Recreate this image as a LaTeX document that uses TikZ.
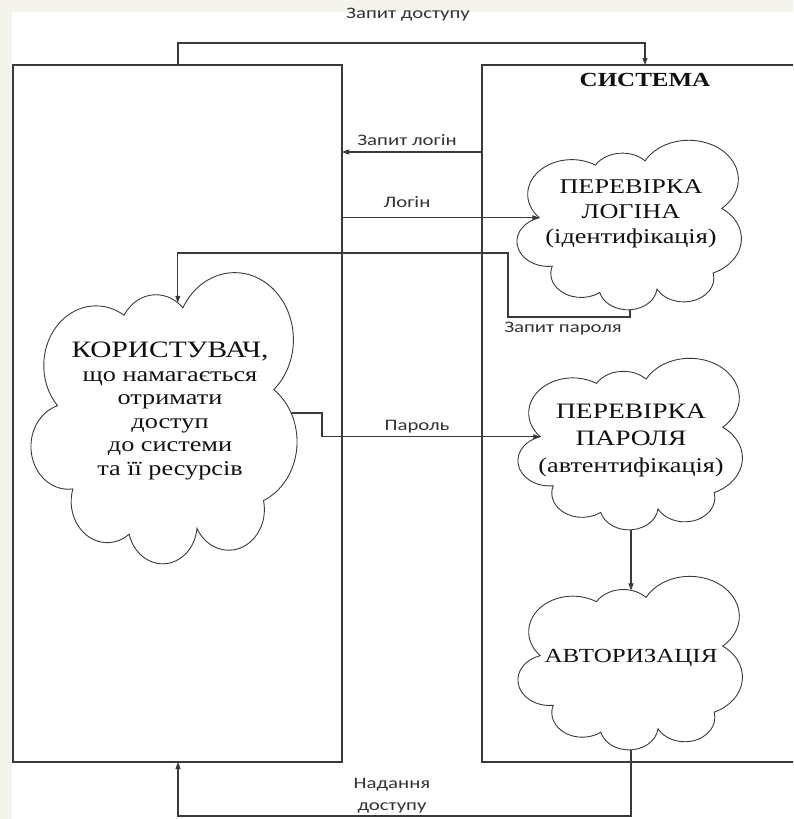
\documentclass[tikz,border=0pt]{standalone}
\usepackage{fontspec}
\setmainfont{Liberation Serif}
\newfontfamily\cloudf{Liberation Serif}[FakeStretch=1.25]
\newfontfamily\labf{Carlito}[FakeStretch=1.3]
\usetikzlibrary{arrows.meta}
\definecolor{bgframe}{HTML}{F4F4EC}
\definecolor{ln}{HTML}{3A3A3A}
\definecolor{txt}{HTML}{111111}
\definecolor{labtxt}{HTML}{333333}
\tikzset{
  conn/.style={draw=ln, line width=1.1pt},
  arr/.style={conn, -{Triangle[length=7pt,width=5pt]}},
  cloudline/.style={draw=ln, line width=0.9pt},
  box/.style={draw=ln, line width=1.1pt, rectangle, outer sep=0pt, inner sep=0pt},
  cloudtext/.style={text=txt, align=center, inner sep=0pt, font=\cloudf\fontsize{21}{25}\selectfont},
  lab/.style={text=labtxt, inner sep=0pt, align=center, font=\labf\fontsize{16}{22}\selectfont},
}
% lobe: arc from A to B bulging outwards (clockwise travel), sweep #6
\newcommand{\lobecalc}[6]{%
 \pgfmathsetmacro\ldx{#4-(#2)}%
 \pgfmathsetmacro\ldy{#5-(#3)}%
 \pgfmathsetmacro\lL{veclen(\ldx,\ldy)}%
 \pgfmathsetmacro\lh{(\lL/2)/tan(#6/2)}%
 \pgfmathsetmacro\lcx{((#2)+(#4))/2 + \ldy/\lL*\lh}%
 \pgfmathsetmacro\lcy{((#3)+(#5))/2 - \ldx/\lL*\lh}%
 \pgfmathsetmacro\lr{(\lL/2)/sin(#6/2)}%
 \pgfmathsetmacro\ls{atan2((#3)-\lcy,(#2)-\lcx)}%
 \expandafter\xdef\csname lobe#1s\endcsname{\ls}%
 \expandafter\xdef\csname lobe#1r\endcsname{\lr}%
 \expandafter\xdef\csname lobe#1d\endcsname{-#6}%
}
% valleys
\def\Vax{-0.84}\def\Vay{0.05}
\def\Vbx{-0.32}\def\Vby{0.67}
\def\Vcx{0.14}\def\Vcy{0.72}
\def\Vdx{0.85}\def\Vdy{0.16}
\def\Vex{0.77}\def\Vey{-0.60}
\def\Vfx{0.25}\def\Vfy{-0.79}
\def\Vgx{-0.28}\def\Vgy{-0.83}
\def\Vhx{-0.72}\def\Vhy{-0.52}
\lobecalc{A}{\Vax}{\Vay}{\Vbx}{\Vby}{165}
\lobecalc{B}{\Vbx}{\Vby}{\Vcx}{\Vcy}{105}
\lobecalc{C}{\Vcx}{\Vcy}{\Vdx}{\Vdy}{200}
\lobecalc{D}{\Vdx}{\Vdy}{\Vex}{\Vey}{120}
\lobecalc{E}{\Vex}{\Vey}{\Vfx}{\Vfy}{165}
\lobecalc{F}{\Vfx}{\Vfy}{\Vgx}{\Vgy}{160}
\lobecalc{G}{\Vgx}{\Vgy}{\Vhx}{\Vhy}{145}
\lobecalc{H}{\Vhx}{\Vhy}{\Vax}{\Vay}{170}
\newcommand{\lobe}[1]{arc[start angle=\csname lobe#1s\endcsname, delta angle=\csname lobe#1d\endcsname, radius=\csname lobe#1r\endcsname]}
\newcommand{\cloudat}[5]{% name, cx, cy, rx, ry
 \begin{scope}[shift={(#2,#3)}, xscale=#4, yscale=-#5]
  \draw[cloudline] (\Vax,\Vay) \lobe{A} \lobe{B} \lobe{C} \lobe{D} \lobe{E} \lobe{F} \lobe{G} \lobe{H} -- cycle;
  \coordinate (#1-w) at (\Vax,\Vay);
  \coordinate (#1-e) at (0.985,0.0);
  \coordinate (#1-s) at (0,-1.03);
  \coordinate (#1-n) at (0,0.80);
  \coordinate (#1-nr) at (0.1,0.755);
 \end{scope}}
\begin{document}
\begin{tikzpicture}[x=1pt, y=-1pt]
\useasboundingbox (0,0) rectangle (793,819);
\clip (0,0) rectangle (793,819);
\fill[bgframe] (0,0) rectangle (793,819);
\fill[white] (12,12) rectangle (793,819);

% frames
\node[box, minimum width=329pt, minimum height=697pt] (lbox) at (177.5,413.5) {};
\node[box, minimum width=340pt, minimum height=697pt] (rbox) at (652,413.5) {};
\node[text=txt, inner sep=0pt, font=\cloudf\bfseries\fontsize{20}{24}\selectfont] (sys) at (645,80) {СИСТЕМА};

% clouds
\cloudat{c1}{630}{222}{108}{85}
\cloudat{c2}{631}{441}{108}{86}
\cloudat{c3}{631}{660}{108}{87}
\cloudat{us}{165}{413}{128}{146}

\node[cloudtext] (t1) at (631,214) {ПЕРЕВІРКА\\ЛОГІНА\\(ідентифікація)};
\node[cloudtext, font=\cloudf\fontsize{21}{27}\selectfont] (t2) at (631,440) {{\fontsize{22}{27}\selectfont ПЕРЕВІРКА}\\{\fontsize{22}{27}\selectfont ПАРОЛЯ}\\(автентифікація)};
\node[cloudtext, font=\cloudf\fontsize{20}{25}\selectfont] (t3) at (631,658) {АВТОРИЗАЦІЯ};
\node[cloudtext, font=\cloudf\fontsize{21}{23.5}\selectfont] (tu) at (170,411) {{\fontsize{23.5}{23.5}\selectfont КОРИСТУВАЧ,}\\що намагається\\отримати\\доступ\\до системи\\та її ресурсів};

% helper coordinates
\coordinate (ta) at (178,43);
\coordinate (tb) at (645,43);
\coordinate (zl) at (0,152);
\coordinate (zp1) at (508,317);
\coordinate (zp2) at (508,253);
\coordinate (pp) at (322,0);
\coordinate (bb) at (178,816);

% connectors
\draw[arr] (ta |- lbox.north) -- (ta) -- (tb) -- (tb |- rbox.north);
\draw[arr] (rbox.west |- zl) -- (lbox.east |- zl);
\draw[arr] (lbox.east |- c1-w) -- (c1-w);
\draw[arr] (c1-s) |- (zp1) -- (zp2) -| (us-nr);
\draw[arr] (us-e) -- (pp |- us-e) -- (pp |- c2-w) -- (c2-w);
\draw[arr] (c2-s) -- (c3-n);
\draw[arr] (c3-s) |- (bb) -- (bb |- lbox.south);

% labels
\node[lab] (l1) at (408,15) {Запит доступу};
\node[lab] (l2) at (407,140) {Запит логін};
\node[lab] (l3) at (407,202) {Логін};
\node[lab] (l4) at (563,329) {Запит пароля};
\node[lab] (l5) at (417,427) {Пароль};
\node[lab] (l6) at (392,796) {Надання\\доступу};
\end{tikzpicture}
\end{document}
